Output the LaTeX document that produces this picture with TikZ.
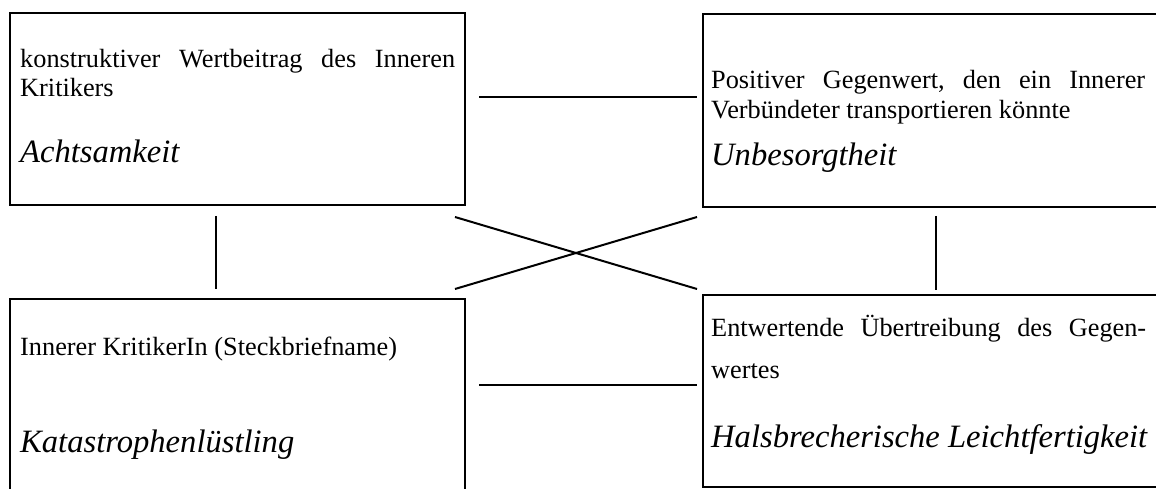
\documentclass[tikz,border=0pt]{standalone}
\usepackage{fontspec}
\setmainfont{Liberation Serif}
\begin{document}
\begin{tikzpicture}[x=1pt,y=-1pt,
  box/.style={draw=black,line width=2.3pt,rectangle,inner sep=0pt},
  conn/.style={draw=black,line width=2pt},
  lbl/.style={anchor=base west,inner sep=0pt,font=\fontsize{26.3}{29}\selectfont},
  big/.style={anchor=base west,inner sep=0pt,font=\fontsize{32.6}{36}\selectfont\itshape}]
\path[use as bounding box,clip] (0,0) rectangle (1156,489);
% boxes
\node[box,minimum width=455pt,minimum height=192pt] (tl) at (237.5,109) {};
\node[box,minimum width=459pt,minimum height=193pt] (tr) at (932.5,110.5) {};
\node[box,minimum width=455pt,minimum height=200pt] (bl) at (237.5,399) {};
\node[box,minimum width=459pt,minimum height=192pt] (br) at (932.5,391) {};
% texts
\node[lbl] (tl1) at (20,68) {\hbox to 435pt{konstruktiver\hfill Wertbeitrag\hfill des\hfill Inneren}};
\node[lbl] (tl2) at (20,97) {Kritikers};
\node[big] (tl3) at (20,163) {Achtsamkeit};
\node[lbl] (tr1) at (711,89) {\hbox to 434pt{Positiver\hfill Gegenwert,\hfill den\hfill ein\hfill Innerer}};
\node[lbl] (tr2) at (711,119) {Verbündeter transportieren könnte};
\node[big] (tr3) at (711,166) {Unbesorgtheit};
\node[lbl] (bl1) at (20,355) {Innerer KritikerIn (Steckbriefname)};
\node[big] (bl2) at (20,452) {Katastrophenlüstling};
\node[lbl] (br1) at (711,336) {\hbox to 435pt{Entwertende\hfill Übertreibung\hfill des\hfill Gegen-}};
\node[lbl] (br2) at (711,378) {wertes};
\node[big] (br3) at (711,447) {Halsbrecherische Leichtfertigkeit};
% connector end points
\coordinate (h1a) at (479,97);  \coordinate (h1b) at (697,97);
\coordinate (h2a) at (479,385); \coordinate (h2b) at (697,385);
\coordinate (v1a) at (216,216); \coordinate (v1b) at (216,289);
\coordinate (v2a) at (936,216); \coordinate (v2b) at (936,290);
\coordinate (x1a) at (455,217); \coordinate (x1b) at (697,289);
\coordinate (x2a) at (455,289); \coordinate (x2b) at (697,217);
\draw[conn] (h1a) -- (h1b);
\draw[conn] (h2a) -- (h2b);
\draw[conn] (v1a) -- (v1b);
\draw[conn] (v2a) -- (v2b);
\draw[conn] (x1a) -- (x1b);
\draw[conn] (x2a) -- (x2b);
\end{tikzpicture}
\end{document}
